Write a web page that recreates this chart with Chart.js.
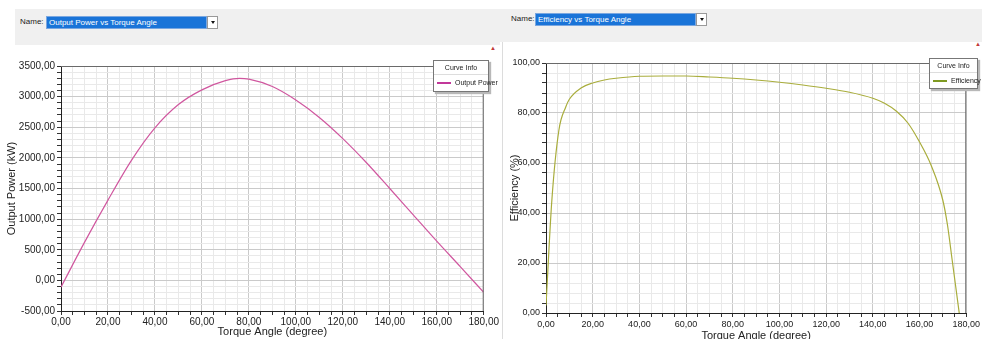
<!DOCTYPE html>
<html>
<head>
<meta charset="utf-8">
<script src="https://cdn.jsdelivr.net/npm/chart.js@4/dist/chart.umd.min.js"></script>
<style>
  html, body { margin: 0; padding: 0; background: #fff; overflow: hidden; }
  body { width: 982px; height: 339px; position: relative; font-family: "Liberation Sans", Arial, sans-serif; }
  .band { position: absolute; background: #f0f0f0; }
  .name { position: absolute; font-size: 8px; color: #222; }
  .combo { position: absolute; background: #1a74d8; color: #fff; font-size: 8px; line-height: 12px; padding-left: 2px; box-sizing: border-box; border: 1px solid #7aa7e0; }
  .arrow { position: absolute; background: #fff; border: 1px solid #999; box-sizing: border-box; }
  .arrow:after { content: ''; position: absolute; left: 3px; top: 4px; border-left: 2px solid transparent; border-right: 2px solid transparent; border-top: 3px solid #111; }
  .mark { position: absolute; font-size: 6px; color: #c23a3a; }
  canvas { position: absolute; }
  .legend { position: absolute; background: #fff; border: 1px solid #777; box-shadow: 2px 2px 1px #b8b8b8; font-size: 7px; color: #222; }
  .legend .lt { text-align: center; height: 13px; line-height: 13px; border-bottom: 1px solid #ddd; }
  .legend .li { height: 15px; line-height: 15px; white-space: nowrap; }
  .legend .sw { display: inline-block; width: 14px; height: 2px; vertical-align: middle; margin: 0 4px 1px 3px; }
  .panel2 { position: absolute; left: 502px; top: 42px; width: 1px; height: 297px; background: #dcdcdc; }
</style>
</head>
<body>

<div class="band" style="left:15px;top:9px;width:485px;height:36px"></div>
<div class="name" style="left:20px;top:17px">Name:</div>
<div class="combo" style="left:46px;top:16px;width:161px;height:13px">Output Power vs Torque Angle</div>
<div class="arrow" style="left:207px;top:16px;width:11px;height:13px"></div>
<div class="mark" style="left:490px;top:45px">&#9650;</div>

<div class="band" style="left:500px;top:9px;width:482px;height:33px"></div>
<div class="name" style="left:511px;top:14px">Name:</div>
<div class="combo" style="left:535px;top:13px;width:161px;height:13px">Efficiency vs Torque Angle</div>
<div class="arrow" style="left:696px;top:13px;width:11px;height:13px"></div>
<div class="mark" style="left:975px;top:41px">&#9650;</div>
<div class="panel2"></div>

<canvas id="powerChart" width="500" height="283" style="left:0;top:56px"></canvas>
<canvas id="effChart" width="479" height="290" style="left:503px;top:53px"></canvas>

<div class="legend" style="left:433px;top:60px;width:54px;height:30px">
  <div class="lt">Curve Info</div>
  <div class="li"><span class="sw" style="background:#c2389a"></span>Output Power</div>
</div>
<div class="legend" style="left:929px;top:58px;width:47px;height:29px">
  <div class="lt">Curve Info</div>
  <div class="li"><span class="sw" style="background:#7f9a22"></span>Efficiency</div>
</div>

<script>
'use strict';

// Values.
const powerAngles = [0, 10, 20, 30, 40, 50, 60, 70, 76, 80, 90, 100, 110, 120, 130, 140, 150, 160, 170, 180];
const powerValues = [-110, 620, 1310, 1960, 2490, 2870, 3110, 3260, 3298, 3285, 3165, 2945, 2660, 2315, 1925, 1500, 1070, 640, 225, -195];

const effAngles = [0, 2.5, 5.5, 8.5, 10, 15, 20, 25, 30, 40, 50, 60, 70, 80, 90, 100, 110, 120, 130, 140, 145, 150, 155, 160, 165, 170, 172, 174, 177];
const effValues = [3, 45, 73, 82.5, 85.5, 90, 92, 93.2, 93.9, 94.7, 94.8, 94.8, 94.4, 93.9, 93.2, 92.3, 91.2, 89.9, 88.3, 85.9, 83.9, 80.8, 76, 68.4, 59, 45, 35, 21, 0];

const xTitle = 'Torque Angle (degree)';
const powerTitle = 'Output Power (kW)';
const effTitle = 'Efficiency (%)';

function toPoints(xs, ys) {
  let pts = [];
  for (let i = 0; i < xs.length; i++) {
    pts.push({ x: xs[i], y: ys[i] });
  }
  return pts;
}

// 1234.5 -> "1234,50"
function fmt(v) {
  return v.toFixed(2).replace('.', ',');
}

// Box round the plot area (top and right edges).
const frame = {
  id: 'frame',
  afterDraw(chart) {
    const a = chart.chartArea;
    const ctx = chart.ctx;
    ctx.save();
    ctx.strokeStyle = '#6a6a6a';
    ctx.lineWidth = 1;
    ctx.beginPath();
    ctx.moveTo(a.left, a.top + 0.5);
    ctx.lineTo(a.right - 0.5, a.top + 0.5);
    ctx.lineTo(a.right - 0.5, a.bottom);
    ctx.stroke();
    ctx.restore();
  }
};

function makeAxes(opts) {
  const tickFont = { family: 'Liberation Sans', size: opts.fontSize };
  const titleFont = { family: 'Liberation Sans', size: 11 };
  return {
    x: {
      type: 'linear', min: 0, max: 180,
      ticks: {
        stepSize: 5, autoSkip: false, maxRotation: 0, color: '#222', font: tickFont, padding: opts.xPad,
        callback: v => (v % 20 === 0 ? fmt(v) : '')
      },
      grid: {
        color: c => (c.tick && c.tick.value % 20 === 0 ? '#cacaca' : '#e9e9e9'),
        tickColor: '#333', tickLength: 4
      },
      border: { color: '#222' },
      title: { display: true, text: xTitle, color: '#222', font: titleFont, padding: 0 },
      afterFit: s => { s.height = opts.xHeight; }
    },
    y: {
      min: opts.yMin, max: opts.yMax,
      ticks: {
        stepSize: opts.yMinor, autoSkip: false, color: '#222', font: tickFont, padding: 2,
        callback: v => (v % opts.yMajor === 0 ? fmt(v) : '')
      },
      grid: {
        color: c => (c.tick && c.tick.value % opts.yMajor === 0 ? '#cacaca' : '#e9e9e9'),
        tickColor: '#333', tickLength: 4
      },
      border: { color: '#222' },
      title: { display: true, text: opts.yTitle, color: '#222', font: titleFont, padding: { top: 5, bottom: 0 } },
      afterFit: s => { s.width = opts.yWidth; }
    }
  };
}

new Chart(document.getElementById('powerChart'), {
  type: 'line',
  data: {
    datasets: [{
      data: toPoints(powerAngles, powerValues),
      borderColor: '#d0579f',
      borderWidth: 1.2,
      pointRadius: 0,
      cubicInterpolationMode: 'monotone'
    }]
  },
  options: {
    responsive: false,
    animation: false,
    layout: { padding: { top: 10, right: 12, left: 0, bottom: 0 } },
    plugins: { legend: { display: false }, tooltip: { enabled: false } },
    scales: makeAxes({ fontSize: 10, xPad: 1, xHeight: 28, yMin: -500, yMax: 3500, yMinor: 100, yMajor: 500, yTitle: powerTitle, yWidth: 61 })
  },
  plugins: [frame]
});

new Chart(document.getElementById('effChart'), {
  type: 'line',
  data: {
    datasets: [{
      data: toPoints(effAngles, effValues),
      borderColor: '#a9ad3c',
      borderWidth: 1.2,
      pointRadius: 0,
      cubicInterpolationMode: 'monotone'
    }]
  },
  options: {
    responsive: false,
    animation: false,
    layout: { padding: { top: 10, right: 10, left: 0, bottom: 0 } },
    plugins: { legend: { display: false }, tooltip: { enabled: false } },
    scales: makeAxes({ fontSize: 9, xPad: 2, xHeight: 30, yMin: 0, yMax: 100, yMinor: 4, yMajor: 20, yTitle: effTitle, yWidth: 43 })
  },
  plugins: [frame]
});
</script>
</body>
</html>
